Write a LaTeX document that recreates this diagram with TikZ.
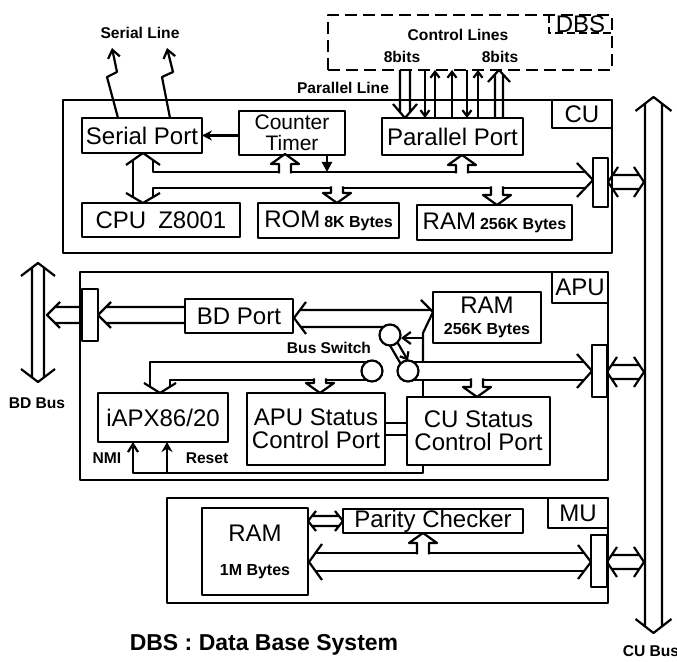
\documentclass[tikz,border=0pt]{standalone}
\usepackage{fontspec}
\setmainfont{Liberation Sans}
\usetikzlibrary{arrows.meta, positioning, calc}

\tikzset{
  box/.style={draw, line width=1.1pt, inner sep=0pt, outer sep=0pt, align=center, font=\fontsize{12}{11}\selectfont},
  frame/.style={draw, line width=1.4pt, inner sep=0pt, outer sep=0pt},
  unitlbl/.style={draw, line width=1.2pt, inner sep=0pt, outer sep=0pt, anchor=north east, font=\fontsize{12}{12}\selectfont},
  iface/.style={draw, fill=white, line width=1.1pt, inner sep=0pt, outer sep=0pt, minimum width=7.5pt, minimum height=25pt},
  tag/.style={font=\bfseries\fontsize{7.8}{8}\selectfont, inner sep=1pt},
  sw/.style={draw, circle, fill=white, line width=1.1pt, minimum size=10.5pt, inner sep=0pt, outer sep=0pt},
  ctl/.style={-{Straight Barb[length=3pt,width=4.5pt]}},
}
\newcommand{\smallb}[1]{{\bfseries\fontsize{8}{8}\selectfont #1}}
% hollow arrow tap from a bus line into a box
\newcommand{\bustapup}[3]{%
  \draw[fill=white] ({#1-6},{#2+1.5}) -- ({#1-6},{#3+10}) -- ({#1-14},{#3+10}) -- (#1,#3)
    -- ({#1+14},{#3+10}) -- ({#1+6},{#3+10}) -- ({#1+6},{#2+1.5});}
\newcommand{\bustapdn}[3]{%
  \draw[fill=white] ({#1-6},{#2-1.5}) -- ({#1-6},{#3-10}) -- ({#1-14},{#3-10}) -- (#1,#3)
    -- ({#1+14},{#3-10}) -- ({#1+6},{#3-10}) -- ({#1+6},{#2-1.5});}
% hollow double-headed bus arrows
\newcommand{\busarrowh}[6]{%
  \draw ({#1+#6*#4/#5},{#3-#4}) -- ({#2-#6*#4/#5},{#3-#4})
        ({#1+#6*#4/#5},{#3+#4}) -- ({#2-#6*#4/#5},{#3+#4})
        ({#1+#6},{#3-#5}) -- (#1,#3) -- ({#1+#6},{#3+#5})
        ({#2-#6},{#3-#5}) -- (#2,#3) -- ({#2-#6},{#3+#5});}
\newcommand{\busarrowv}[6]{%
  \draw ({#1-#4},{#2+#6*#4/#5}) -- ({#1-#4},{#3-#6*#4/#5})
        ({#1+#4},{#2+#6*#4/#5}) -- ({#1+#4},{#3-#6*#4/#5})
        ({#1-#5},{#2+#6}) -- (#1,#2) -- ({#1+#5},{#2+#6})
        ({#1-#5},{#3-#6}) -- (#1,#3) -- ({#1+#5},{#3-#6});}

\begin{document}
\begin{tikzpicture}[x=0.5pt, y=-0.5pt, line width=1.1pt, line join=round,
  >={Straight Barb[length=4pt,width=6pt]}]
\useasboundingbox (0,0) rectangle (677,662);

% DBS
\node[frame, dash pattern=on 6pt off 3pt, minimum width=142pt, minimum height=27.5pt] (dbs) at (470,42.5) {};
\node[unitlbl, draw=none, minimum width=31.5pt, minimum height=9pt] (dbslbl) at (dbs.north east) {DBS};
\draw[dash pattern=on 4pt off 2pt] (dbslbl.north west) -- (dbslbl.south west) -- (dbslbl.south east);
\node[tag] (ctlines) at (458,35) {Control Lines};
\node[tag] (bitsl) at (402,57) {8bits};
\node[tag] (bitsr) at (500,57) {8bits};
\node[tag] (parline) at (343,88) {Parallel Line};
\node[tag] (serline) at (140,33) {Serial Line};

% CU
\node[frame, minimum width=274.5pt, minimum height=76.5pt] (cu) at (337.5,176.5) {};
\node[unitlbl, minimum width=30pt, minimum height=14pt] (culbl) at (cu.north east) {CU};
\node[box, minimum width=60pt, minimum height=17.5pt] (ser) at (142,135.5) {Serial Port};
\node[box, minimum width=53pt, minimum height=22pt, font=\fontsize{10.5}{10.5}\selectfont] (ctr) at (292,133) {Counter\\Timer};
\node[box, minimum width=70.5pt, minimum height=18.5pt] (par) at (452.5,136.5) {Parallel Port};
\node[box, minimum width=79pt, minimum height=17pt] (cpu) at (161,220) {CPU\enspace Z8001};
\node[box, minimum width=70.5pt, minimum height=17.5pt] (rom) at (328.5,220.5) {ROM\,\smallb{8K Bytes}};
\node[box, minimum width=77.5pt, minimum height=17.5pt] (ramc) at (494.5,222.5) {RAM\,\smallb{256K Bytes}};
\node[iface, minimum height=24.5pt] (cuif) at (600.5,182.5) {};

% serial and parallel lines
\draw[->] ($(ser.north)+(-24,0)$) -- ++(-11,-41) -- ++(10,-5) -- ++(-5,-24);
\draw[->] ($(ser.north)+(28,0)$) -- ++(-8,-41) -- ++(11,-5) -- ++(-6,-24);
\draw[-{Stealth[length=5pt,width=5pt]}] (ctr.west |- ser.east) -- (ser.east);
\draw (400,70) -- (400,112) (410,70) -- (410,112) (393,104) -- (405,118) -- (417,104);
\foreach \x in {425,467} \draw[ctl] (\x,70) -- (\x,118);
\foreach \x in {435,452,478} \draw[ctl] (\x,118) -- (\x,70);
\draw (495,118) -- (495,75) (503,118) -- (503,75) (488,82) -- (499,70) -- (510,82);

% CU bus
\draw (153,160) -- (153,172) -- (585.5,172);
\draw (153,197) -- (153,188) -- (585.5,188);
\draw (133,160) -- (133,197);
\draw (126,165) -- (143,153) -- (160,165);
\draw (126,193) -- (143,203) -- (160,193);
\draw (577,163) -- (593,180) -- (577,197);
\bustapup{285}{172}{154}
\bustapup{462}{172}{155}
\bustapdn{337}{188}{203}
\bustapdn{497}{188}{205}
\draw[-{Triangle[length=5pt,width=5pt]}] (327,154) -- (327,172);
\busarrowh{608}{644}{182}{7}{15}{10}

% APU
\node[frame, minimum width=264pt, minimum height=104pt] (apu) at (344,376) {};
\node[unitlbl, minimum width=28pt, minimum height=15.5pt] (apulbl) at (apu.north east) {APU};
\node[iface, minimum width=8pt, minimum height=26pt] (bdif) at (90,315) {};
\node[box, minimum width=54pt, minimum height=17pt] (bdp) at (239,316) {BD Port};
\node[box, minimum width=54pt, minimum height=25.5pt, font=\fontsize{12}{10.5}\selectfont] (rama) at (487,317.5) {RAM\\\smallb{256K Bytes}};
\node[iface, minimum height=26pt] (apuif) at (599.5,371) {};
\node[box, minimum width=65pt, minimum height=24.5pt] (iapx) at (163,417.5) {iAPX86/20};
\node[box, minimum width=69pt, minimum height=36pt, font=\fontsize{12}{11.5}\selectfont] (apus) at (316,429) {APU Status\\Control Port};
\node[box, minimum width=71.5pt, minimum height=34pt, font=\fontsize{12}{11.5}\selectfont] (cus) at (478.5,431) {CU Status\\Control Port};

% BD side
\busarrowv{38}{263}{382}{6}{17}{13}
\draw (55,307) -- (82,307) (55,323) -- (82,323) (60,302) -- (47,315) -- (60,328);
\draw (106,307) -- (185,307) (106,323) -- (185,323) (111,302) -- (98,315) -- (111,328);
\draw (300,310) -- (431,310) (301,327) -- (386,327) (306,302) -- (294,318) -- (306,334);
\draw (421,300) -- (433,312) -- (423,333) -- (423,362);
\draw (423,380) -- (423,397);
\draw[->] (423,338) -- (401,338);

% internal APU bus
\draw (366,362) -- (150,362) -- (150,386.5);
\draw (366,380) -- (170,380) -- (170,386.5);
\draw (144,383) -- (160,393) -- (176,383);
\draw (414,362) -- (584,362) (414,380) -- (584,380);
\draw (577,354) -- (592,371) -- (577,388);
\bustapdn{320}{380}{393}
\bustapdn{477}{380}{397}
\busarrowh{607}{644}{372}{7}{15}{10}

% bus switch
\node[sw] (swa) at (390,335) {};
\node[sw] (swb) at (372,371) {};
\node[sw] (swc) at (408,371) {};
\draw (swa.south) -- (swc.north west);
\draw[-{Straight Barb[length=3pt,width=5pt]}] (swa.south east) -- (swc.north);
\node[tag] (swlbl) at (329,348) {Bus Switch};

% status links and interrupts
\draw ([yshift=3pt]apus.east) -- ([yshift=4pt]cus.west);
\draw ([yshift=-3pt]apus.east) -- ([yshift=-2pt]cus.west);
\draw[-{Straight Barb[length=4pt,width=5pt]}] ([xshift=-27.75pt]cus.south) |- (133,473) -- ([xshift=-15pt]iapx.south);
\draw[-{Stealth[length=5pt,width=5.5pt]}] (167,473) -- ([xshift=2pt]iapx.south);
\node[tag] (nmi) at (107,458) {NMI};
\node[tag] (reset) at (207,458) {Reset};
\node[tag] (bdbus) at (37,403) {BD Bus};

% MU
\node[frame, minimum width=220.5pt, minimum height=52.5pt] (mu) at (387.5,550.5) {};
\node[unitlbl, minimum width=30pt, minimum height=15pt] (mulbl) at (mu.north east) {MU};
\node[box, minimum width=53pt, minimum height=43.5pt] (ramm) at (255,551.5) {RAM\\[6pt]\smallb{1M Bytes}};
\node[box, minimum width=90pt, minimum height=12pt] (pty) at (433,521) {Parity Checker};
\node[iface, minimum width=8pt, minimum height=26pt] (muif) at (599,561) {};
\busarrowh{308}{343}{521}{5}{10}{8}
\draw (315.5,553) -- (584,553) (315.5,571) -- (584,571);
\draw (322,544) -- (309,562) -- (322,580);
\draw (578,545) -- (591,562) -- (578,579);
\bustapup{423}{553}{533}
\busarrowh{607}{644}{562}{7}{15}{10}

% CU bus
\busarrowv{653.5}{97}{633}{8.5}{18}{14}
\node[tag] (cubus) at (651,651) {CU Bus};
\node[font=\bfseries\fontsize{11.5}{12}\selectfont] (title) at (264,645) {DBS : Data Base System};
\end{tikzpicture}
\end{document}
